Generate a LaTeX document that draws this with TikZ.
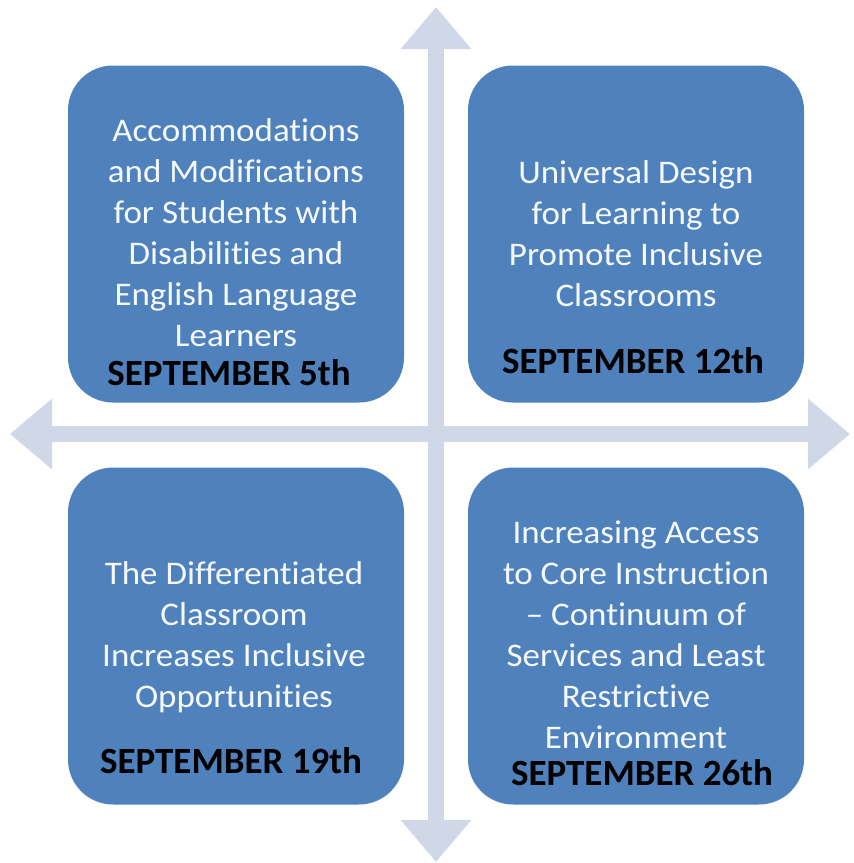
\documentclass[tikz,border=0pt]{standalone}
\usepackage{fontspec}
\setmainfont{Carlito}[Ligatures=NoCommon]
\usetikzlibrary{arrows.meta}
\definecolor{boxblue}{RGB}{79,129,189}
\definecolor{arrowgray}{RGB}{208,216,232}
\tikzset{
  quad/.style={fill=boxblue, draw=none, rounded corners=45pt, minimum width=336pt, minimum height=337pt, inner sep=0pt},
  quadtext/.style={text=white!95!boxblue, align=center, inner sep=0pt, xscale=1.06, transform shape, font=\fontsize{33}{41}\selectfont},
  datetext/.style={text=black, inner sep=0pt, anchor=base, font=\fontsize{37}{44}\selectfont\bfseries},
  axis/.style={draw=arrowgray, line width=16pt, {Triangle[width=68pt,length=42pt]}-{Triangle[width=68pt,length=42pt]}}
}
\begin{document}
\begin{tikzpicture}[x=1pt,y=-1pt]
\useasboundingbox (0,0) rectangle (854,863);
\coordinate (top) at (436,7);
\coordinate (bottom) at (436,862);
\coordinate (left) at (10,434);
\coordinate (right) at (850,434);
\draw[axis] (top) -- (bottom);
\draw[axis] (left) -- (right);

\node[quad] (q1) at (236,234) {};
\node[quad] (q2) at (636,234) {};
\node[quad] (q3) at (236,636) {};
\node[quad] (q4) at (636,636) {};

\node[quadtext] (t1) at (236,233) {Accommodations\\and Modifications\\for Students with\\Disabilities and\\English Language\\Learners};
\node[quadtext] (t2) at (636,234) {Universal Design\\for Learning to\\Promote Inclusive\\Classrooms};
\node[quadtext] (t3) at (234,637) {The Differentiated\\Classroom\\Increases Inclusive\\Opportunities};
\node[quadtext] (t4) at (636,635) {Increasing Access\\to Core Instruction\\{--} Continuum of\\Services and Least\\Restrictive\\Environment};

\node[datetext] (d1) at (229,385) {SEPTEMBER 5th};
\node[datetext] (d2) at (633,373) {SEPTEMBER 12th};
\node[datetext] (d3) at (231,773) {SEPTEMBER 19th};
\node[datetext] (d4) at (642,785) {SEPTEMBER 26th};
\end{tikzpicture}
\end{document}
